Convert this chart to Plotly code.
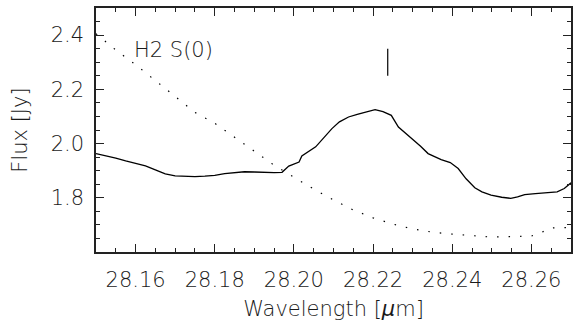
import plotly.graph_objects as go

# Observed spectrum (solid)
wave_obs = [28.1500, 28.1525, 28.1550, 28.1575, 28.1600, 28.1625, 28.1650, 28.1675,
            28.1700, 28.1725, 28.1750, 28.1775, 28.1800, 28.1825, 28.1850, 28.1875,
            28.1900, 28.1925, 28.1950, 28.1970, 28.1987, 28.2013, 28.2020, 28.2055,
            28.2075, 28.2096, 28.2115, 28.2138, 28.2160, 28.2180, 28.2195, 28.2205,
            28.2225, 28.2246, 28.2264, 28.2285, 28.2304, 28.2320, 28.2339, 28.2372,
            28.2395, 28.2415, 28.2435, 28.2457, 28.2475, 28.2498, 28.2525, 28.2548,
            28.2565, 28.2583, 28.2610, 28.2641, 28.2665, 28.2683, 28.2700]
flux_obs = [1.963, 1.955, 1.946, 1.936, 1.927, 1.918, 1.903, 1.888,
            1.881, 1.879, 1.878, 1.880, 1.883, 1.889, 1.893, 1.896,
            1.895, 1.893, 1.893, 1.894, 1.917, 1.932, 1.954, 1.988,
            2.020, 2.055, 2.080, 2.098, 2.108, 2.116, 2.122, 2.125,
            2.118, 2.104, 2.061, 2.035, 2.012, 1.990, 1.963, 1.941,
            1.930, 1.908, 1.870, 1.837, 1.822, 1.810, 1.802, 1.798,
            1.803, 1.812, 1.815, 1.818, 1.822, 1.834, 1.855]

# Model / continuum (dotted)
wave_mod = [28.150, 28.155, 28.160, 28.165, 28.170, 28.175, 28.180, 28.185, 28.190,
            28.195, 28.200, 28.205, 28.210, 28.215, 28.220, 28.225, 28.230, 28.235,
            28.240, 28.245, 28.250, 28.255, 28.260, 28.2625, 28.265, 28.2675, 28.270]
flux_mod = [2.405, 2.345, 2.291, 2.232, 2.174, 2.115, 2.075, 2.023, 1.972,
            1.920, 1.876, 1.832, 1.792, 1.755, 1.726, 1.703, 1.685, 1.673,
            1.666, 1.660, 1.655, 1.657, 1.659, 1.672, 1.689, 1.690, 1.690]

# Line marker
marker_wave = [28.2237, 28.2237]
marker_flux = [2.25, 2.35]

label_text = "H2 S(0)"
label_pos = (28.159, 2.345)

FONT = "DejaVu Sans"
TXT = "#1a1a1a"
WEIGHT = 300

fig = go.Figure()
fig.add_trace(go.Scatter(x=wave_mod, y=flux_mod, mode="lines",
                         line=dict(color="black", width=1.2, dash="1.5px,10px"),
                         showlegend=False))
fig.add_trace(go.Scatter(x=wave_obs, y=flux_obs, mode="lines",
                         line=dict(color="black", width=1.3),
                         showlegend=False))
fig.add_trace(go.Scatter(x=marker_wave, y=marker_flux, mode="lines",
                         line=dict(color="black", width=1.2),
                         showlegend=False))

fig.add_annotation(x=label_pos[0], y=label_pos[1], text=label_text, showarrow=False,
                   xanchor="left", yanchor="middle",
                   font=dict(family=FONT, size=21, color=TXT, weight=WEIGHT))

axis_common = dict(
    showgrid=False, zeroline=False, showline=True, linecolor="#222", linewidth=1.5,
    mirror="allticks", ticks="inside", ticklen=8, tickwidth=1.2, tickcolor="#222",
    tickfont=dict(family=FONT, size=21, color=TXT, weight=WEIGHT),
)

fig.update_xaxes(range=[28.15, 28.27], tickvals=[28.16, 28.18, 28.20, 28.22, 28.24, 28.26],
                 ticktext=["28.16", "28.18", "28.20", "28.22", "28.24", "28.26"],
                 minor=dict(dtick=0.005, ticks="inside", ticklen=4, tickcolor="#222", tickwidth=1),
                 title=dict(text="Wavelength [<i>μ</i>m]", standoff=10,
                            font=dict(family=FONT, size=21, color=TXT, weight=WEIGHT)),
                 ticklabelstandoff=8,
                 **axis_common)
fig.update_yaxes(range=[1.6, 2.5], tickvals=[1.8, 2.0, 2.2, 2.4],
                 ticktext=["1.8", "2.0", "2.2", "2.4"],
                 minor=dict(dtick=0.05, ticks="inside", ticklen=4, tickcolor="#222", tickwidth=1),
                 title=dict(text="Flux [Jy]", standoff=17,
                            font=dict(family=FONT, size=21, color=TXT, weight=WEIGHT)),
                 ticklabelstandoff=6,
                 **axis_common)

fig.update_layout(width=574, height=323, margin=dict(l=96, r=1, t=8, b=71),
                  plot_bgcolor="white", paper_bgcolor="white")

fig.write_html("out.html")
